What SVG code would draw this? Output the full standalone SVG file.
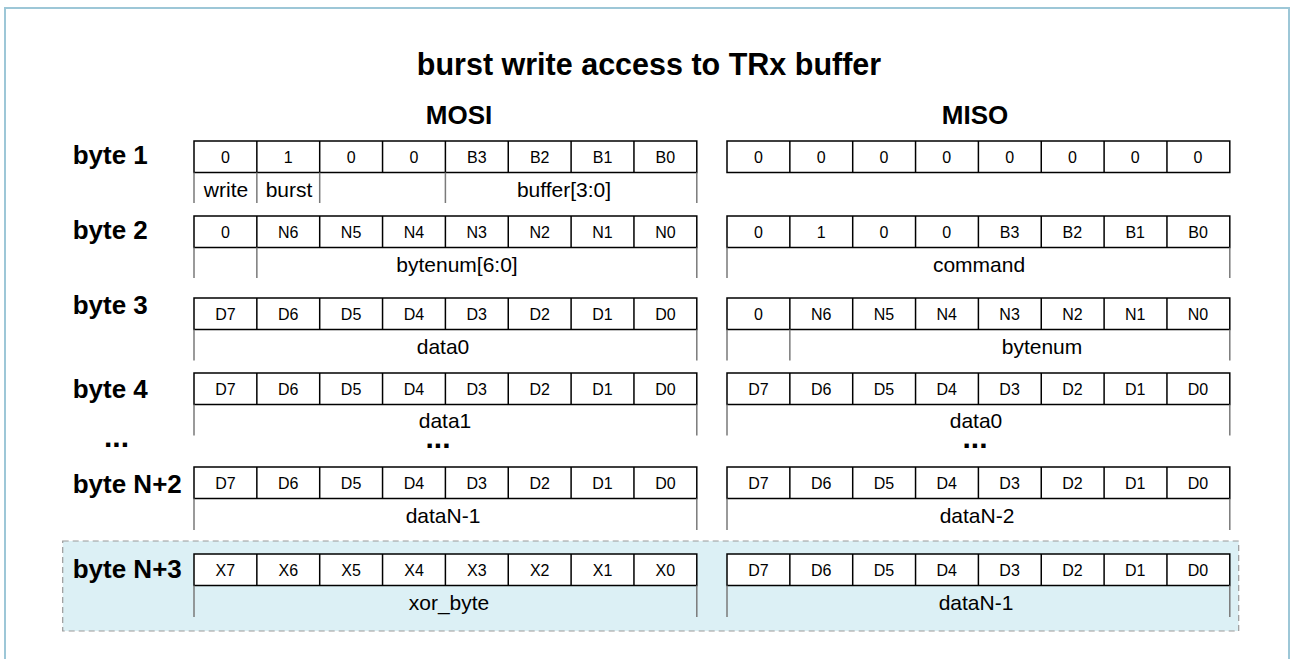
<svg xmlns="http://www.w3.org/2000/svg" xmlns:xlink="http://www.w3.org/1999/xlink" width="1290" height="659" viewBox="0 0 1290 659">
<style>
.title{font-family:"Liberation Sans",Arial,sans-serif;font-weight:bold;font-size:30.5px;fill:#000}
.hdr{font-family:"Liberation Sans",Arial,sans-serif;font-weight:bold;font-size:26px;fill:#000}
.row{font-family:"Liberation Sans",Arial,sans-serif;font-weight:bold;font-size:26px;fill:#000}
.dots{font-family:"Liberation Sans",Arial,sans-serif;font-weight:bold;font-size:30px;fill:#000}
.c{font-family:"Liberation Sans",Arial,sans-serif;font-size:16px;fill:#000;text-anchor:middle}
.lbl{font-family:"Liberation Sans",Arial,sans-serif;font-size:21px;fill:#000;text-anchor:middle}
.cell{fill:#fff;stroke:#000;stroke-width:1.5}
.div{stroke:#000;stroke-width:1.5}
.tick{stroke:#7a7a7a;stroke-width:1.5}
</style>
<defs>
<g id="grid">
<rect class="cell" x="0" y="0" width="502.8" height="31.5"/>
<path class="div" d="M62.85 0V31.5M125.7 0V31.5M188.55 0V31.5M251.4 0V31.5M314.25 0V31.5M377.1 0V31.5M439.95 0V31.5"/>
</g>
</defs>
<rect x="5" y="8" width="1284" height="660" fill="#fff" stroke="#9dc7d7" stroke-width="2"/>
<rect x="62.7" y="541" width="1176" height="90" fill="#dcf0f5" stroke="#9a9a9a" stroke-width="1.2" stroke-dasharray="6,4"/>
<text class="title" x="649" y="75" text-anchor="middle">burst write access to TRx buffer</text>
<text class="hdr" x="459" y="124" text-anchor="middle">MOSI</text>
<text class="hdr" x="975" y="124" text-anchor="middle">MISO</text>

<g id="byte1">
<text class="row" x="72.7" y="164">byte 1</text>
<use xlink:href="#grid" href="#grid" x="194" y="141"/>
<g transform="translate(0,162.5)">
<text class="c" x="225.4">0</text><text class="c" x="288.3">1</text><text class="c" x="351.1">0</text><text class="c" x="414">0</text><text class="c" x="476.8">B3</text><text class="c" x="539.7">B2</text><text class="c" x="602.5">B1</text><text class="c" x="665.4">B0</text>
</g>
<path class="tick" d="M194 172.5V203M256.85 172.5V203M319.7 172.5V203M445.4 172.5V203M696.8 172.5V203"/>
<text class="lbl" x="226" y="197">write</text>
<text class="lbl" x="289" y="197">burst</text>
<text class="lbl" x="564" y="197">buffer[3:0]</text>
<use xlink:href="#grid" href="#grid" x="727" y="141"/>
<g transform="translate(0,162.5)">
<text class="c" x="758.4">0</text><text class="c" x="821.2">0</text><text class="c" x="884">0</text><text class="c" x="946.8">0</text><text class="c" x="1009.6">0</text><text class="c" x="1072.4">0</text><text class="c" x="1135.2">0</text><text class="c" x="1198">0</text>
</g>
</g>

<g id="byte2">
<text class="row" x="72.7" y="239">byte 2</text>
<use xlink:href="#grid" href="#grid" x="194" y="216"/>
<g transform="translate(0,237.5)">
<text class="c" x="225.4">0</text><text class="c" x="288.3">N6</text><text class="c" x="351.1">N5</text><text class="c" x="414">N4</text><text class="c" x="476.8">N3</text><text class="c" x="539.7">N2</text><text class="c" x="602.5">N1</text><text class="c" x="665.4">N0</text>
</g>
<path class="tick" d="M194 247.5V278M256.85 247.5V278M696.8 247.5V278"/>
<text class="lbl" x="457" y="272">bytenum[6:0]</text>
<use xlink:href="#grid" href="#grid" x="727" y="216"/>
<g transform="translate(0,237.5)">
<text class="c" x="758.4">0</text><text class="c" x="821.2">1</text><text class="c" x="884">0</text><text class="c" x="946.8">0</text><text class="c" x="1009.6">B3</text><text class="c" x="1072.4">B2</text><text class="c" x="1135.2">B1</text><text class="c" x="1198">B0</text>
</g>
<path class="tick" d="M727 247.5V278M1229.8 247.5V278"/>
<text class="lbl" x="979" y="272">command</text>
</g>

<g id="byte3">
<text class="row" x="72.7" y="314">byte 3</text>
<use xlink:href="#grid" href="#grid" x="194" y="298"/>
<g transform="translate(0,319.5)">
<text class="c" x="225.4">D7</text><text class="c" x="288.3">D6</text><text class="c" x="351.1">D5</text><text class="c" x="414">D4</text><text class="c" x="476.8">D3</text><text class="c" x="539.7">D2</text><text class="c" x="602.5">D1</text><text class="c" x="665.4">D0</text>
</g>
<path class="tick" d="M194 329.5V360.5M696.8 329.5V360.5"/>
<text class="lbl" x="443" y="354">data0</text>
<use xlink:href="#grid" href="#grid" x="727" y="298"/>
<g transform="translate(0,319.5)">
<text class="c" x="758.4">0</text><text class="c" x="821.2">N6</text><text class="c" x="884">N5</text><text class="c" x="946.8">N4</text><text class="c" x="1009.6">N3</text><text class="c" x="1072.4">N2</text><text class="c" x="1135.2">N1</text><text class="c" x="1198">N0</text>
</g>
<path class="tick" d="M727 329.5V360.5M789.85 329.5V360.5M1229.8 329.5V360.5"/>
<text class="lbl" x="1042" y="354">bytenum</text>
</g>

<g id="byte4">
<text class="row" x="72.7" y="398">byte 4</text>
<use xlink:href="#grid" href="#grid" x="194" y="373"/>
<g transform="translate(0,394.5)">
<text class="c" x="225.4">D7</text><text class="c" x="288.3">D6</text><text class="c" x="351.1">D5</text><text class="c" x="414">D4</text><text class="c" x="476.8">D3</text><text class="c" x="539.7">D2</text><text class="c" x="602.5">D1</text><text class="c" x="665.4">D0</text>
</g>
<path class="tick" d="M194 404.5V435.5M696.8 404.5V435.5"/>
<text class="lbl" x="445" y="428">data1</text>
<use xlink:href="#grid" href="#grid" x="727" y="373"/>
<g transform="translate(0,394.5)">
<text class="c" x="758.4">D7</text><text class="c" x="821.2">D6</text><text class="c" x="884">D5</text><text class="c" x="946.8">D4</text><text class="c" x="1009.6">D3</text><text class="c" x="1072.4">D2</text><text class="c" x="1135.2">D1</text><text class="c" x="1198">D0</text>
</g>
<path class="tick" d="M727 404.5V435.5M1229.8 404.5V435.5"/>
<text class="lbl" x="976" y="428">data0</text>
</g>

<g id="ellipsis">
<text class="dots" x="104" y="447">...</text>
<text class="dots" x="438" y="448" text-anchor="middle">...</text>
<text class="dots" x="975" y="448" text-anchor="middle">...</text>
</g>

<g id="byteN2">
<text class="row" x="72.7" y="493">byte N+2</text>
<use xlink:href="#grid" href="#grid" x="194" y="467"/>
<g transform="translate(0,488.5)">
<text class="c" x="225.4">D7</text><text class="c" x="288.3">D6</text><text class="c" x="351.1">D5</text><text class="c" x="414">D4</text><text class="c" x="476.8">D3</text><text class="c" x="539.7">D2</text><text class="c" x="602.5">D1</text><text class="c" x="665.4">D0</text>
</g>
<path class="tick" d="M194 498.5V530M696.8 498.5V530"/>
<text class="lbl" x="443" y="523">dataN-1</text>
<use xlink:href="#grid" href="#grid" x="727" y="467"/>
<g transform="translate(0,488.5)">
<text class="c" x="758.4">D7</text><text class="c" x="821.2">D6</text><text class="c" x="884">D5</text><text class="c" x="946.8">D4</text><text class="c" x="1009.6">D3</text><text class="c" x="1072.4">D2</text><text class="c" x="1135.2">D1</text><text class="c" x="1198">D0</text>
</g>
<path class="tick" d="M727 498.5V530M1229.8 498.5V530"/>
<text class="lbl" x="977" y="523">dataN-2</text>
</g>

<g id="byteN3">
<text class="row" x="72.7" y="578">byte N+3</text>
<use xlink:href="#grid" href="#grid" x="194" y="554"/>
<g transform="translate(0,575.5)">
<text class="c" x="225.4">X7</text><text class="c" x="288.3">X6</text><text class="c" x="351.1">X5</text><text class="c" x="414">X4</text><text class="c" x="476.8">X3</text><text class="c" x="539.7">X2</text><text class="c" x="602.5">X1</text><text class="c" x="665.4">X0</text>
</g>
<path class="tick" d="M194 585.5V617M696.8 585.5V617"/>
<text class="lbl" x="449" y="610">xor_byte</text>
<use xlink:href="#grid" href="#grid" x="727" y="554"/>
<g transform="translate(0,575.5)">
<text class="c" x="758.4">D7</text><text class="c" x="821.2">D6</text><text class="c" x="884">D5</text><text class="c" x="946.8">D4</text><text class="c" x="1009.6">D3</text><text class="c" x="1072.4">D2</text><text class="c" x="1135.2">D1</text><text class="c" x="1198">D0</text>
</g>
<path class="tick" d="M727 585.5V617M1229.8 585.5V617"/>
<text class="lbl" x="976" y="610">dataN-1</text>
</g>
</svg>
